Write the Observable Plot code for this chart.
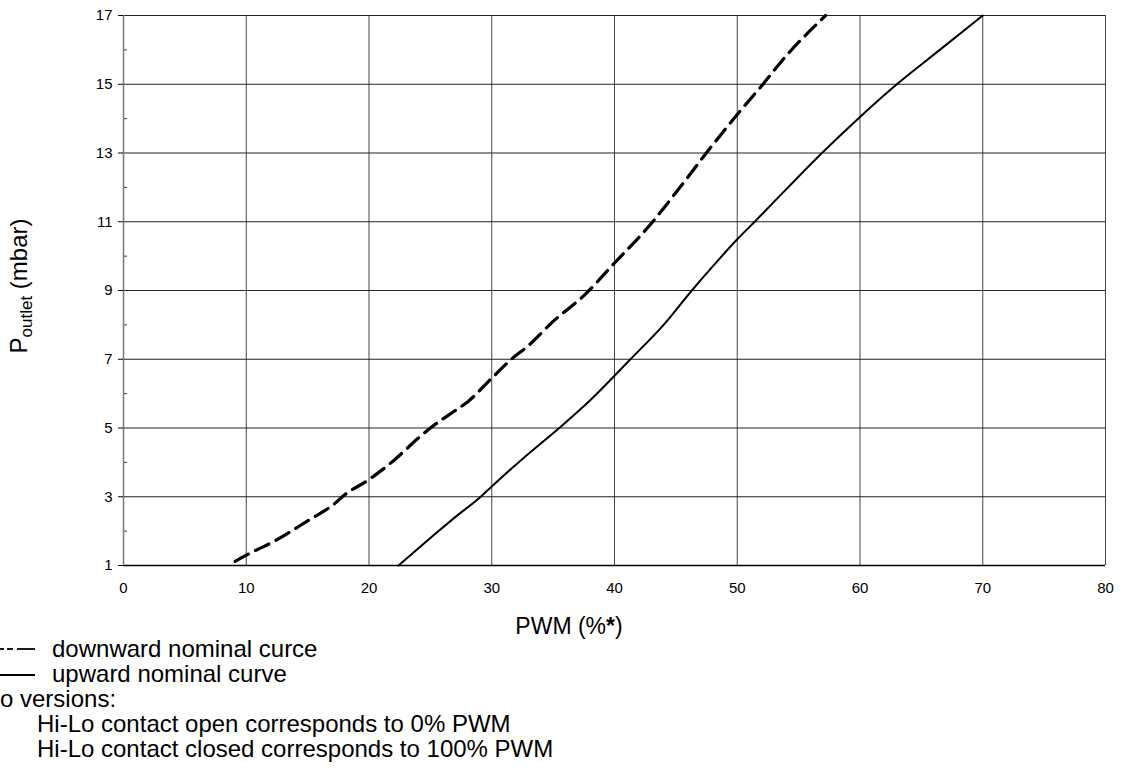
<!DOCTYPE html>
<html>
<head>
<meta charset="utf-8">
<script src="https://cdn.jsdelivr.net/npm/d3@7"></script>
<script src="https://cdn.jsdelivr.net/npm/@observablehq/plot@0.6"></script>
<style>
  body { margin: 0; background: #fff; font-family: Arial, "Liberation Sans", Helvetica, sans-serif; position: relative; width: 1125px; height: 773px; overflow: hidden; }
  #chart { position: absolute; left: 0; top: 0; }
  .row { position: absolute; left: 0; height: 25px; line-height: 25px; font-size: 24px; color: #000; white-space: nowrap; width: 1125px; }
  .row svg { position: absolute; left: 0; top: 0; }
  .row span { position: absolute; top: 0; }
</style>
</head>
<body>
<div id="chart"></div>
<div class="row" style="top:636px"><svg width="40" height="25"><g stroke="#000" stroke-width="1.8"><line x1="0" y1="13" x2="4" y2="13"/><line x1="7" y1="13" x2="13" y2="13"/><line x1="17" y1="13" x2="35" y2="13"/></g></svg><span style="left:52px">downward nominal curce</span></div>
<div class="row" style="top:661px"><svg width="40" height="25"><line x1="0" y1="14" x2="35" y2="14" stroke="#000" stroke-width="1.8"/></svg><span style="left:52px">upward nominal curve</span></div>
<div class="row" style="top:686px"><span style="left:0px">o versions:</span></div>
<div class="row" style="top:711px"><span style="left:37px">Hi-Lo contact open corresponds to 0% PWM</span></div>
<div class="row" style="top:736px"><span style="left:37px">Hi-Lo contact closed corresponds to 100% PWM</span></div>
<script>
// PWM (%) vs outlet pressure (mbar)
const downwardPWM = [9.1, 10, 12.5, 15, 17.2, 18, 20, 22, 24, 25, 27, 28, 30, 31.6, 33, 35, 37.5, 40, 42.8, 45.2, 47.7, 50, 52, 53.9, 57.2];
const downwardP   = [1.12, 1.3, 1.75, 2.3, 2.8, 3.05, 3.5, 4.05, 4.7, 5.0, 5.5, 5.75, 6.45, 7.0, 7.4, 8.1, 8.85, 9.8, 10.87, 11.94, 13.1, 14.12, 14.96, 15.79, 17.0];
const upwardPWM = [22.4, 25, 27, 29.1, 30, 32.5, 35.5, 38, 41.3, 44, 46.3, 48, 50, 51.5, 54, 56.9, 60, 63, 66.5, 70];
const upwardP   = [1.0, 1.8, 2.4, 3.0, 3.3, 4.1, 5.0, 5.8, 7.0, 8.0, 9.0, 9.7, 10.49, 11.03, 11.95, 13.0, 14.05, 15.0, 16.0, 17.0];
const xTicks = [0, 10, 20, 30, 40, 50, 60, 70, 80];
const yTicks = [1, 3, 5, 7, 9, 11, 13, 15, 17];
const yMinor = [2, 4, 6, 8, 10, 12, 14, 16];
const yLabelMain = "P", yLabelSub = "outlet", yLabelRest = " (mbar)";

const down = downwardPWM.map((x, i) => ({x, y: downwardP[i]}));
const up = upwardPWM.map((x, i) => ({x, y: upwardP[i]}));

const chart = Plot.plot({
  width: 1125,
  height: 640,
  marginLeft: 123,
  marginRight: 20,
  marginTop: 15,
  marginBottom: 75,
  style: { fontFamily: "Arial, 'Liberation Sans', sans-serif", background: "#fff", fontSize: "15px", overflow: "visible" },
  x: { domain: [0, 80] },
  y: { domain: [1, 17] },
  marks: [
    Plot.ruleX(xTicks.filter(d => d > 0), { stroke: "#444", strokeWidth: 1 }),
    Plot.ruleY(yTicks.filter(d => d > 1), { stroke: "#222", strokeWidth: 1 }),
    Plot.ruleY(yMinor, { x1: 0, x2: 0.33, stroke: "#333", strokeWidth: 1 }),
    Plot.ruleY([1], { stroke: "#000", strokeWidth: 1.5 }),
    Plot.ruleX([0], { stroke: "#777", strokeWidth: 1.5 }),
    Plot.axisX({ ticks: xTicks, tickSize: 0, tickPadding: 17, fontSize: 15, label: null, tickFormat: d => String(d) }),
    Plot.axisY({ ticks: yTicks, tickSize: 5, tickPadding: 6, fontSize: 15, label: null, tickFormat: d => String(d) }),
    Plot.line(up, { x: "x", y: "y", stroke: "#000", strokeWidth: 2, curve: "monotone-x" }),
    Plot.line(down, { x: "x", y: "y", stroke: "#000", strokeWidth: 3.2, strokeDasharray: "15,8", curve: "monotone-x" })
  ]
});
document.getElementById("chart").appendChild(chart);

const svg = d3.select(chart);
const xl = svg.append("text")
  .attr("x", 569)
  .attr("y", 634)
  .attr("text-anchor", "middle")
  .attr("font-size", 23)
  .attr("fill", "#000");
xl.append("tspan").text("PWM (%");
xl.append("tspan").attr("font-weight", "bold").text("*");
xl.append("tspan").text(")");

const yl = svg.append("text")
  .attr("transform", "translate(27,286) rotate(-90)")
  .attr("text-anchor", "middle")
  .attr("font-size", 24)
  .attr("fill", "#000");
yl.append("tspan").text(yLabelMain);
yl.append("tspan").attr("font-size", 17).attr("dy", 5).text(yLabelSub);
yl.append("tspan").attr("dy", -5).text(yLabelRest);
</script>
</body>
</html>
